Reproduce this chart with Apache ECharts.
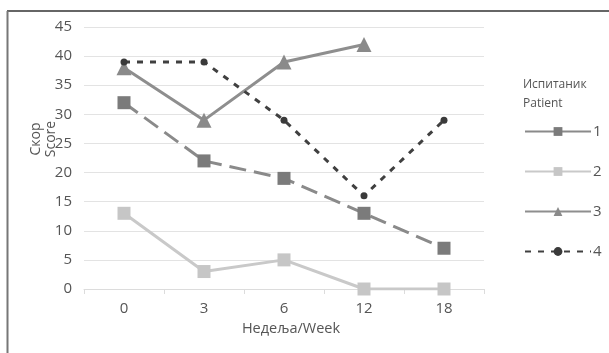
<!DOCTYPE html>
<html><head><meta charset="utf-8">
<script src="https://cdn.jsdelivr.net/npm/echarts@6/dist/echarts.min.js"></script>
<style>html,body{margin:0;padding:0;background:#fff}#c{width:609px;height:353px}</style>
</head><body><div id="c"></div>
<script>
const weeks = ['0', '3', '6', '12', '18'];
const yTicks = [0, 5, 10, 15, 20, 25, 30, 35, 40, 45];
const patient1 = [32, 22, 19, 13, 7];
const patient2 = [13, 3, 5, 0, 0];
const patient3 = [38, 29, 39, 42, null];
const patient4 = [39, 39, 29, 16, 29];
const seriesNames = ['1', '2', '3', '4'];
const xTitle = 'Недеља/Week';
const yTitle = 'Скор\nScore';
const legendTitle = 'Испитаник\nPatient';

const font = '"Open Sans", "Noto Sans", sans-serif';
const txt = '#555555';
const chart = echarts.init(document.getElementById('c'), null, {renderer: 'canvas'});
chart.setOption({
  animation: false,
  backgroundColor: '#fff',
  textStyle: {fontFamily: font},
  title: {
    text: legendTitle, left: 518, top: 70,
    textStyle: {fontSize: 12, fontWeight: 'normal', color: txt, fontFamily: font, lineHeight: 19}
  },
  graphic: [
    {type: 'line', shape: {x1: 7, y1: 11, x2: 609, y2: 11}, style: {stroke: '#333', lineWidth: 1.5}},
    {type: 'line', shape: {x1: 7.5, y1: 11, x2: 7.5, y2: 353}, style: {stroke: '#777', lineWidth: 2}},
    {type: 'text', x: 44, y: 139, rotation: Math.PI / 2, style: {text: yTitle, font: '14px ' + font, fill: txt, align: 'center', verticalAlign: 'middle', lineHeight: 15}}
  ],
  legend: {
    orient: 'vertical', left: 519, top: 119,
    itemWidth: 66, itemHeight: 11, itemGap: 25,
    textStyle: {fontSize: 15, color: txt, fontFamily: font, padding: [0, 0, 0, -3]},
    data: [
      {name: seriesNames[0], lineStyle: {type: 'solid'}},
      {name: seriesNames[1]},
      {name: seriesNames[2]},
      {name: seriesNames[3]}
    ]
  },
  grid: {left: 84, top: 27, width: 400, height: 262},
  xAxis: {
    type: 'category', data: weeks, boundaryGap: true,
    name: xTitle, nameLocation: 'middle', nameGap: 28,
    nameTextStyle: {fontSize: 14.5, color: txt, fontFamily: font, padding: [0, 0, 0, 14]},
    axisLine: {lineStyle: {color: '#dcdcdc', width: 1}},
    axisTick: {show: true, length: 5, lineStyle: {color: '#dcdcdc'}},
    axisLabel: {fontSize: 15, color: txt, margin: 12, fontFamily: font}
  },
  yAxis: {
    type: 'value', min: 0, max: 45, interval: 5,
    axisLine: {show: false}, axisTick: {show: false},
    axisLabel: {fontSize: 15, color: txt, margin: 12, fontFamily: font},
    splitLine: {lineStyle: {color: '#e3e3e3', width: 1}}
  },
  series: [
    {name: seriesNames[0], type: 'line', data: patient1, symbol: 'rect', symbolSize: 13,
      lineStyle: {color: '#8a8a8a', width: 3, type: [17, 8]}, itemStyle: {color: '#7b7b7b'}, z: 3},
    {name: seriesNames[1], type: 'line', data: patient2, symbol: 'rect', symbolSize: 13,
      lineStyle: {color: '#c9c9c9', width: 3}, itemStyle: {color: '#c6c6c6'}, z: 2},
    {name: seriesNames[2], type: 'line', data: patient3, symbol: 'triangle', symbolSize: 15,
      lineStyle: {color: '#8e8e8e', width: 3}, itemStyle: {color: '#8a8a8a'}, z: 4},
    {name: seriesNames[3], type: 'line', data: patient4, symbol: 'circle', symbolSize: 7,
      lineStyle: {color: '#404040', width: 3, type: [6, 7]}, itemStyle: {color: '#3a3a3a'}, z: 5}
  ]
});
</script></body></html>
